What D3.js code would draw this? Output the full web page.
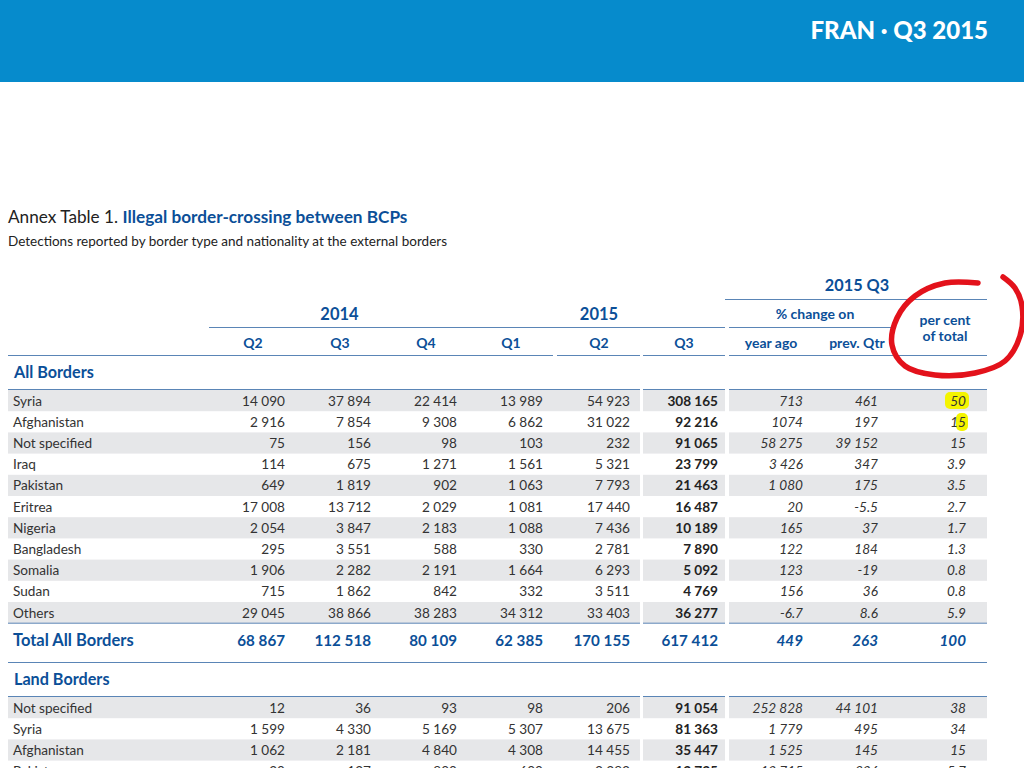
<!DOCTYPE html>
<html>
<head>
<meta charset="utf-8">
<script src="https://cdn.jsdelivr.net/npm/d3@7"></script>
<style>
body { margin: 0; background: #fff; overflow: hidden; }
svg { display: block; font-family: Lato, "Open Sans", sans-serif; }
</style>
</head>
<body>
<svg id="chart" width="1024" height="768"></svg>
<script>
const quarterLabels = ["Q2", "Q3", "Q4", "Q1", "Q2", "Q3"];
const yearLabels = ["2014", "2015"];
const changeLabels = ["year ago", "prev. Qtr"];

const allNationalities = ["Syria", "Afghanistan", "Not specified", "Iraq", "Pakistan", "Eritrea",
	"Nigeria", "Bangladesh", "Somalia", "Sudan", "Others"];
const allCounts = [
	[14090, 37894, 22414, 13989, 54923, 308165],
	[2916, 7854, 9308, 6862, 31022, 92216],
	[75, 156, 98, 103, 232, 91065],
	[114, 675, 1271, 1561, 5321, 23799],
	[649, 1819, 902, 1063, 7793, 21463],
	[17008, 13712, 2029, 1081, 17440, 16487],
	[2054, 3847, 2183, 1088, 7436, 10189],
	[295, 3551, 588, 330, 2781, 7890],
	[1906, 2282, 2191, 1664, 6293, 5092],
	[715, 1862, 842, 332, 3511, 4769],
	[29045, 38866, 38283, 34312, 33403, 36277]
];
const allYearAgo = [713, 1074, 58275, 3426, 1080, 20, 165, 122, 123, 156, -6.7];
const allPrevQtr = [461, 197, 39152, 347, 175, -5.5, 37, 184, -19, 36, 8.6];
const allShare = [50, 15, 15, 3.9, 3.5, 2.7, 1.7, 1.3, 0.8, 0.8, 5.9];
const allTotalCounts = [68867, 112518, 80109, 62385, 170155, 617412];
const allTotalChange = [449, 263, 100];

const landNationalities = ["Not specified", "Syria", "Afghanistan", "Pakistan"];
const landCounts = [
	[12, 36, 93, 98, 206, 91054],
	[1599, 4330, 5169, 5307, 13675, 81363],
	[1062, 2181, 4840, 4308, 14455, 35447],
	[20, 127, 800, 600, 3383, 13735]
];
const landYearAgo = [252828, 1779, 1525, 10715];
const landPrevQtr = [44101, 495, 145, 306];
const landShare = [38, 34, 15, 5.7];

/* Layout */
const blue = "#0b4f98";
const ruleColor = "#5a85b6";
const shade = "#e6e7e9";
const textColor = "#333";
const rowH = 21.2;
const bodySize = 13.6;

const columns = d3.range(9);
// header centre and right edge of values for every numeric column
const xCenter = d3.scaleOrdinal(columns, [253, 340, 426, 511, 599, 684, 771, 857, 945]);
const xValue = d3.scaleOrdinal(columns, [285, 371, 457, 543, 630, 718, 803, 878, 966]);

const rowSegments = [[8, 640], [643, 725], [729, 987]];
const headSegments = [[8, 553], [557, 640], [643, 725], [729, 987]];

const locale = d3.formatLocale({decimal: ".", thousands: " ", grouping: [3], currency: ["", ""], minus: "-"});
const fmtInt = locale.format(",d");
function fmt(v) {
	if (!Number.isInteger(v)) return (v < 0 ? "-" : "") + Math.abs(v).toFixed(1);
	if (v === 1074) return "1074"; // printed without the separator in the source
	return fmtInt(v);
}

const svg = d3.select("#chart");
const bgLayer = svg.append("g");
const markLayer = svg.append("g");
const textLayer = svg.append("g");

// top band
bgLayer.append("rect").attr("x", 0).attr("y", 0).attr("width", 1024).attr("height", 82)
	.attr("fill", "#068bcc");
textLayer.append("text").attr("x", 988).attr("y", 39).attr("text-anchor", "end")
	.attr("fill", "#fff").attr("font-size", 24).attr("font-weight", 900)
	.text("FRAN \u00b7 Q3 2015");

// title
const title = textLayer.append("text").attr("x", 8).attr("y", 223).attr("font-size", 17.2);
title.append("tspan").attr("fill", "#222").text("Annex Table 1. ");
title.append("tspan").attr("fill", blue).attr("font-weight", 700).text("Illegal border-crossing between BCPs");
textLayer.append("text").attr("x", 8).attr("y", 246).attr("font-size", 13.5).attr("fill", "#222")
	.text("Detections reported by border type and nationality at the external borders");

function hline(g, x1, x2, y) {
	g.append("line").attr("x1", x1).attr("x2", x2).attr("y1", y).attr("y2", y)
		.attr("stroke", ruleColor).attr("stroke-width", 1);
}

// header
const head = textLayer.append("g").attr("fill", blue).attr("font-weight", 700).attr("text-anchor", "middle");
head.append("text").attr("x", 857).attr("y", 291).attr("font-size", 16.3).text("2015 Q3");
hline(head, 725, 987, 299.5);

head.selectAll(".year").data(yearLabels).join("text")
	.attr("class", "year")
	.attr("x", (d, i) => i === 0 ? (xCenter(0) + xCenter(2)) / 2 : xCenter(4))
	.attr("y", 320).attr("font-size", 16.5).text(d => d);
head.append("text").attr("x", 815).attr("y", 319).attr("font-size", 14).text("% change on");
hline(head, 209, 725, 327.5);
hline(head, 729, 892, 327.5);

head.append("text").attr("x", xCenter(8)).attr("y", 325).attr("font-size", 14).text("per cent");
head.append("text").attr("x", xCenter(8)).attr("y", 341).attr("font-size", 14).text("of total");

head.selectAll(".col").data(quarterLabels.concat(changeLabels)).join("text")
	.attr("class", "col")
	.attr("x", (d, i) => xCenter(i)).attr("y", 348).attr("font-size", 14).text(d => d);
headSegments.forEach(s => hline(head, s[0], s[1], 355.5));

function section(name, titleY, top, nations, counts, yearAgo, prevQtr, share) {
	textLayer.append("text").attr("x", 14).attr("y", titleY).attr("fill", blue)
		.attr("font-size", 16.2).attr("font-weight", 700).text(name);

	const y = d3.scaleBand().domain(nations).range([top, top + nations.length * rowH]);
	const rowData = nations.map((n, i) => ({
		name: n,
		values: counts[i].concat([yearAgo[i], prevQtr[i], share[i]]),
		shaded: i % 2 === 0
	}));

	bgLayer.append("g").selectAll("g").data(rowData.filter(d => d.shaded)).join("g")
		.attr("transform", d => `translate(0,${y(d.name)})`)
		.selectAll("rect").data(rowSegments).join("rect")
		.attr("x", s => s[0]).attr("width", s => s[1] - s[0])
		.attr("y", 0).attr("height", y.bandwidth()).attr("fill", shade);

	const rows = textLayer.append("g").selectAll(".row").data(rowData).join("g").attr("class", "row")
		.attr("transform", d => `translate(0,${y(d.name)})`);

	rows.append("text").attr("x", 13).attr("y", 15.5).attr("font-size", bodySize)
		.attr("fill", textColor).text(d => d.name);

	rows.selectAll(".v").data(d => d.values).join("text")
		.attr("class", "v")
		.attr("x", (v, i) => xValue(i)).attr("y", 15.5)
		.attr("text-anchor", "end").attr("font-size", bodySize)
		.attr("fill", (v, i) => i === 5 ? "#222" : textColor)
		.attr("font-weight", (v, i) => i === 5 ? 700 : 400)
		.attr("font-style", (v, i) => i > 5 ? "italic" : "normal")
		.text(v => fmt(v));

	rowSegments.forEach(s => hline(textLayer, s[0], s[1], top - 0.5));
	return top + nations.length * rowH;
}

const allBottom = section("All Borders", 378, 390, allNationalities, allCounts, allYearAgo, allPrevQtr, allShare);
rowSegments.forEach(s => hline(textLayer, s[0], s[1], allBottom));

// total row
const total = textLayer.append("g").attr("fill", blue).attr("font-weight", 700);
total.append("text").attr("x", 13).attr("y", 646).attr("font-size", 16.5).text("Total All Borders");
total.selectAll(".t").data(allTotalCounts.concat(allTotalChange)).join("text")
	.attr("class", "t").attr("font-size", 15.2)
	.attr("x", (v, i) => xValue(i)).attr("y", 646).attr("text-anchor", "end")
	.attr("font-style", (v, i) => i > 5 ? "italic" : "normal")
	.text(v => fmt(v));
hline(textLayer, 8, 987, 662.5);

section("Land Borders", 685, 697, landNationalities, landCounts, landYearAgo, landPrevQtr, landShare);

// hand-drawn highlights on the scan
const highlights = [[945, 392, 24, 17], [956, 413, 12, 18]];
markLayer.selectAll("rect").data(highlights).join("rect")
	.attr("x", d => d[0]).attr("y", d => d[1]).attr("width", d => d[2]).attr("height", d => d[3])
	.attr("rx", 5).attr("fill", "#f4f400");

const loop = [[978, 283], [945, 283], [915, 296], [897, 318], [892, 345], [905, 366], [935, 375],
	[975, 373], [1005, 361], [1020, 336], [1022, 306], [1015, 288], [1003, 277]];
textLayer.append("path").attr("d", d3.line().curve(d3.curveCatmullRom)(loop))
	.attr("fill", "none").attr("stroke", "#e3121b").attr("stroke-width", 5.5)
	.attr("stroke-linecap", "round");
</script>
</body>
</html>
